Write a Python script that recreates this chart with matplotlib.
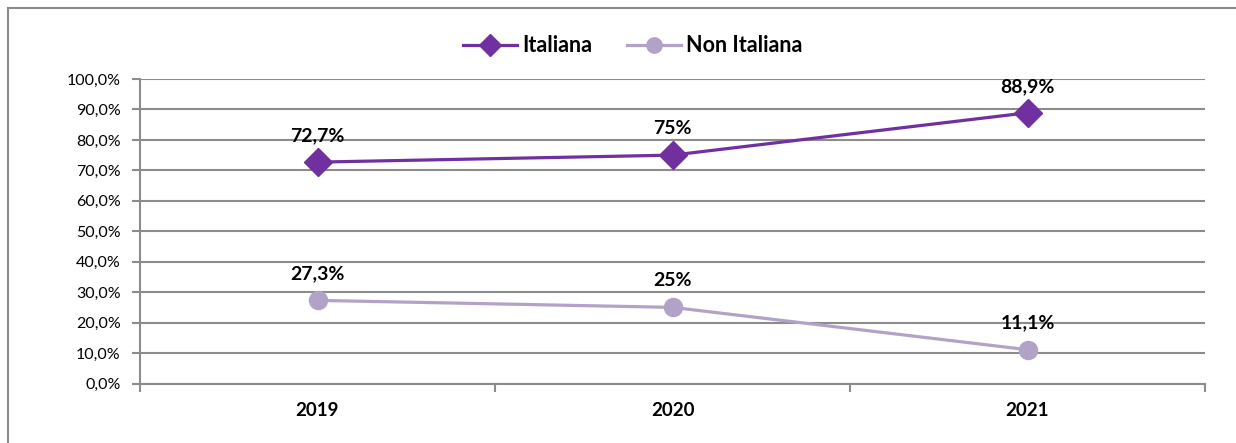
import matplotlib
matplotlib.use("Agg")
import matplotlib.pyplot as plt
from matplotlib.patches import Rectangle
from matplotlib.ticker import FuncFormatter

years = ["2019", "2020", "2021"]
italiana = [72.7, 75.0, 88.9]
non_italiana = [27.3, 25.0, 11.1]
lab_it = ["72,7%", "75%", "88,9%"]
lab_non = ["27,3%", "25%", "11,1%"]
yticks = [0, 10, 20, 30, 40, 50, 60, 70, 80, 90, 100]

plt.rcParams['font.family'] = ['Lato', 'DejaVu Sans']
W, H = 1236, 443
fig = plt.figure(figsize=(W/100, H/100), dpi=100)
ax = fig.add_axes([140/W, 1-383.5/H, (1205-140)/W, (383.5-79)/H])

fig.patches.append(Rectangle((8/W, -0.1), 1.2, (1-8/H)+0.1, transform=fig.transFigure,
                             fill=False, edgecolor='#8c8c8c', linewidth=1.5))

c_it = '#7030A0'
c_non = '#B3A2C7'
grid = '#8c8c8c'
x = list(range(len(years)))
ax.plot(x, italiana, color=c_it, lw=2.3, marker='D', ms=14, label='Italiana', zorder=3)
ax.plot(x, non_italiana, color=c_non, lw=2.3, marker='o', ms=13, label='Non Italiana', zorder=3)
for i in x:
    ax.annotate(lab_it[i], (i, italiana[i]), xytext=(0, 19), textcoords='offset points',
                ha='center', va='center', fontsize=14, fontweight='bold', color='black')
    ax.annotate(lab_non[i], (i, non_italiana[i]), xytext=(0, 19.5), textcoords='offset points',
                ha='center', va='center', fontsize=14, fontweight='bold', color='black')

ax.set_xlim(-0.5, 2.5)
ax.set_ylim(0, 100)
ax.set_yticks(yticks)
ax.yaxis.set_major_formatter(FuncFormatter(lambda v, p: f"{v:.1f}%".replace('.', ',')))
ax.set_xticks([-0.5, 0.5, 1.5, 2.5])
ax.set_xticklabels([])
ax.set_xticks(x, minor=True)
ax.set_xticklabels(years, minor=True, fontsize=13.5, fontweight='bold')
ax.tick_params(axis='x', which='minor', length=0, pad=13)
ax.tick_params(axis='x', which='major', length=6, color=grid, width=1.5)
ax.tick_params(axis='y', length=6, color=grid, width=1.5, labelsize=11.5, pad=8)
ax.grid(axis='y', color=grid, lw=1.5)
ax.set_axisbelow(True)
for s in ['top', 'right']:
    ax.spines[s].set_visible(False)
ax.spines['left'].set_color(grid)
ax.spines['bottom'].set_color(grid)
ax.spines['left'].set_linewidth(1.5)
ax.spines['bottom'].set_linewidth(1.5)

leg = fig.legend(loc='center', bbox_to_anchor=(633/W, 1-46/H), ncol=2, frameon=False,
                 prop={'weight': 'bold', 'size': 15.5}, handlelength=2.5, columnspacing=1.6,
                 handletextpad=0.25)
for h in leg.legend_handles:
    h.set_markersize(11)

fig.savefig('out.png', dpi=100)
